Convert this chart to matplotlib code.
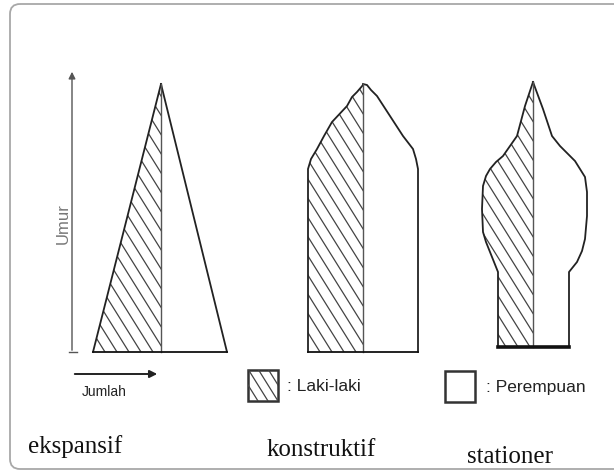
import numpy as np
import matplotlib.pyplot as plt
from matplotlib.patches import Polygon, Rectangle, FancyBboxPatch

# --- data: each pyramid profile, umur (height above base, px) and jumlah (half width, px)
ekspansif_umur_l = [0, 268]
ekspansif_laki = [68, 0]
ekspansif_umur_p = [0, 268]
ekspansif_perempuan = [66, 0]

konstruktif_umur_l = [0, 183, 193, 203, 216, 230, 246, 255, 260, 267]
konstruktif_laki = [55, 55, 52, 46, 39, 31, 16, 11, 6, 0]
konstruktif_umur_p = [0, 183, 193, 203, 216, 236, 256, 262, 267, 268]
konstruktif_perempuan = [55, 55, 53, 50, 40, 27, 14, 8, 4, 0]

stationer_umur_l = [0, 75, 85, 95, 105, 115, 138, 161, 171, 178, 185, 191, 211, 241, 265]
stationer_laki = [35, 35, 39, 43, 47, 50, 51, 50, 47, 43, 37, 30, 16, 8, 0]
stationer_umur_p = [0, 75, 85, 96, 108, 131, 155, 170, 178, 186, 191, 201, 211, 238, 265]
stationer_perempuan = [36, 36, 44, 49, 52, 54, 54, 52, 47, 42, 37, 27, 19, 10, 0]

judul = ["ekspansif", "konstruktif", "stationer"]

sans = ['Liberation Sans', 'DejaVu Sans']
serif = ['Liberation Serif', 'DejaVu Serif']

fig = plt.figure(figsize=(6.14, 4.77), dpi=100)
ax = fig.add_axes([0, 0, 1, 1])
ax.set_xlim(0, 614)
ax.set_ylim(477, 0)
ax.axis('off')

# rounded frame
frame = FancyBboxPatch((10, 5), 640, 465, boxstyle="round,pad=0,rounding_size=10",
                       fc='none', ec='#a8a8a8', lw=1.3)
ax.add_patch(frame)


def hatch_lines(clip, x0, x1, y0, y1, step=12, slope=1.6):
    # diagonal hatch (top-left to bottom-right) clipped to a patch
    span = (y1 - y0) / slope
    for c in np.arange(x0 - span, x1 + step, step):
        ln, = ax.plot([c, c + span], [y0, y1], color='#444444', lw=0.9)
        ln.set_clip_path(clip)


def pyramid(cx, base, umur_l, laki, umur_p, perempuan, base_lw=1.3):
    xl = cx - np.array(laki)
    yl = base - np.array(umur_l)
    xr = cx + np.array(perempuan)
    yr = base - np.array(umur_p)
    top = base - max(max(umur_l), max(umur_p))
    male = Polygon(np.column_stack([np.r_[cx, xl, cx], np.r_[base, yl, top]]),
                   closed=True, fc='none', ec='none')
    ax.add_patch(male)
    hatch_lines(male, xl.min(), cx, top, base)
    ax.plot(xl, yl, color='#222222', lw=1.3)
    ax.plot(xr, yr, color='#222222', lw=1.3)
    ax.plot([cx, cx], [base, top], color='#555555', lw=1.0)
    ax.plot([xl[0], xr[0]], [base, base], color='#111111', lw=base_lw)


pyramid(161, 353, ekspansif_umur_l, ekspansif_laki, ekspansif_umur_p, ekspansif_perempuan)
pyramid(363, 353, konstruktif_umur_l, konstruktif_laki, konstruktif_umur_p, konstruktif_perempuan)
pyramid(533, 348, stationer_umur_l, stationer_laki, stationer_umur_p, stationer_perempuan, base_lw=2.6)

# axes arrows
ax.annotate('', xy=(72, 70), xytext=(72, 354),
            arrowprops=dict(arrowstyle='-|>', color='#555555', lw=1.0, mutation_scale=10))
ax.plot([69, 77], [353, 353], color='#555555', lw=1.0)
ax.text(63, 224, 'Umur', rotation=90, ha='center', va='center', fontsize=12,
        color='#777777', family=sans)
ax.annotate('', xy=(160, 375), xytext=(72, 375),
            arrowprops=dict(arrowstyle='-|>', color='#222222', lw=1.4, mutation_scale=11))
ax.text(104, 392, 'Jumlah', ha='center', va='center', fontsize=10, color='#222222',
        family=sans)

# legend
box_l = Rectangle((248, 371), 30, 31, fc='none', ec='#333333', lw=1.8)
ax.add_patch(box_l)
hatch_lines(box_l, 248, 278, 371, 402, step=10)
ax.text(287, 387, ': Laki-laki', ha='left', va='center', fontsize=12.5, color='#222222',
        family=sans)
ax.add_patch(Rectangle((445, 372), 30, 31, fc='none', ec='#333333', lw=1.8))
ax.text(486, 388, ': Perempuan', ha='left', va='center', fontsize=12.5, color='#222222',
        family=sans)

# titles
for x, y, t in zip([75, 321, 510], [447, 450, 457], judul):
    ax.text(x, y, t, ha='center', va='center', fontsize=18, color='#111111', family=serif)

plt.savefig('out.png', dpi=100)
